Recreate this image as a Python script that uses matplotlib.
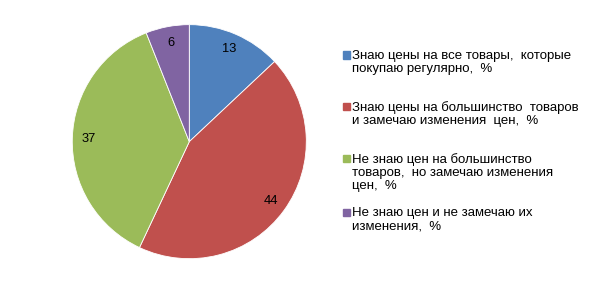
import matplotlib.pyplot as plt
from matplotlib.patches import Rectangle

plt.rcParams['font.family'] = ['Liberation Sans', 'DejaVu Sans']

labels = [
    'Знаю цены на все товары,  которые\nпокупаю регулярно,  %',
    'Знаю цены на большинство  товаров\nи замечаю изменения  цен,  %',
    'Не знаю цен на большинство\nтоваров,  но замечаю изменения\nцен,  %',
    'Не знаю цен и не замечаю их\nизменения,  %',
]
values = [13, 44, 37, 6]
colors = ['#4F81BD', '#C0504D', '#9BBB59', '#8064A2']

fig = plt.figure(figsize=(5.91, 2.93), dpi=100)
ax = fig.add_axes([0.1223, 0.117, 0.396, 0.799])

wedges, texts = ax.pie(values, colors=colors, startangle=90, counterclock=False,
                       labels=[str(v) for v in values], labeldistance=0.86,
                       wedgeprops=dict(edgecolor='white', linewidth=0.6),
                       textprops=dict(fontsize=9.3, color='black'))
for t in texts:
    t.set_ha('center')
    t.set_va('center')
ax.set_xlim(-1, 1)
ax.set_ylim(-1, 1)
ax.set_aspect('equal')

# legend drawn by hand to match spacing
leg_y = [55, 106, 158, 212]
for lab, c, y in zip(labels, colors, leg_y):
    fig.patches.append(Rectangle((343 / 591, 1 - (y + 3.5) / 293), 7 / 591, 7 / 293,
                                 transform=fig.transFigure, color=c))
    fig.text(352 / 591, 1 - (y - 5) / 293, lab, fontsize=9.5, va='top', ha='left',
             linespacing=1.12)

plt.savefig('out.png', dpi=100)
